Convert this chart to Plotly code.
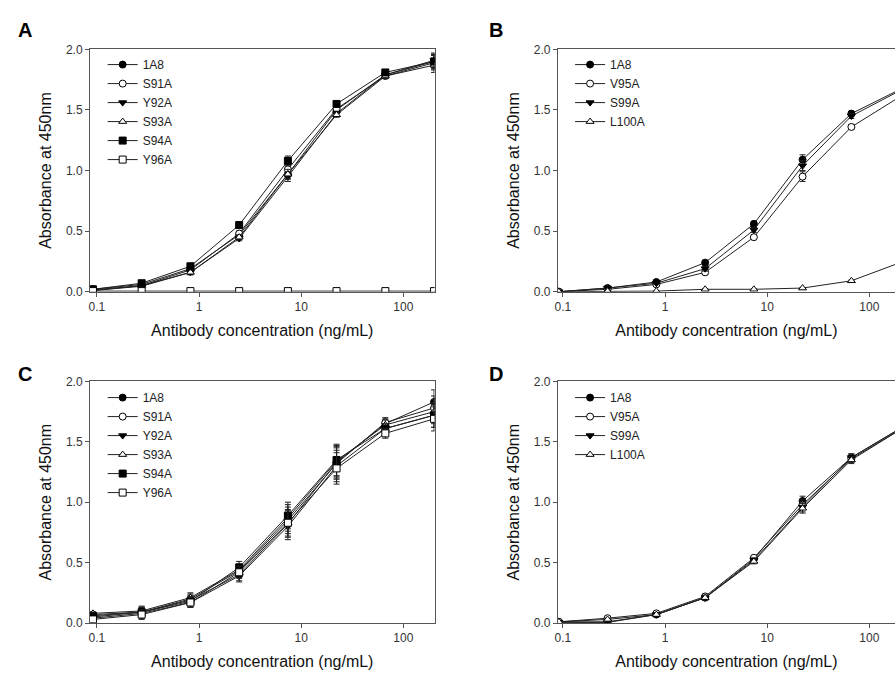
import plotly.graph_objects as go

# ---------------- data ----------------
conc = [0.0914, 0.274, 0.823, 2.47, 7.41, 22.2, 66.7, 200]
x_tick_vals = [0.1, 1, 10, 100]
x_tick_text = ["0.1", "1", "10", "100"]
y_tick_vals = [0.0, 0.5, 1.0, 1.5, 2.0]

# Panel A
a_names = ["1A8", "S91A", "Y92A", "S93A", "S94A", "Y96A"]
a_1A8 = [0.02, 0.06, 0.19, 0.47, 0.97, 1.50, 1.79, 1.90]
a_S91A = [0.015, 0.05, 0.18, 0.48, 1.01, 1.51, 1.78, 1.89]
a_Y92A = [0.01, 0.045, 0.16, 0.44, 0.95, 1.47, 1.79, 1.91]
a_S93A = [0.01, 0.05, 0.16, 0.45, 0.97, 1.46, 1.78, 1.87]
a_S94A = [0.02, 0.07, 0.21, 0.55, 1.08, 1.55, 1.81, 1.90]
a_Y96A = [0.005, 0.005, 0.005, 0.005, 0.005, 0.005, 0.005, 0.005]
a_err = [0.01, 0.01, 0.02, 0.02, 0.04, 0.02, 0.02, 0.06]
a_err_low = [0.0, 0.0, 0.0, 0.0, 0.0, 0.0, 0.0, 0.0]

# Panel B
b_names = ["1A8", "V95A", "S99A", "L100A"]
b_1A8 = [0.0, 0.03, 0.08, 0.24, 0.56, 1.09, 1.47, 1.67]
b_V95A = [0.0, 0.02, 0.06, 0.16, 0.45, 0.95, 1.36, 1.61]
b_S99A = [0.0, 0.03, 0.07, 0.19, 0.51, 1.04, 1.45, 1.66]
b_L100A = [0.0, 0.005, 0.005, 0.02, 0.02, 0.03, 0.09, 0.24]
b_err = [0.005, 0.01, 0.01, 0.02, 0.02, 0.04, 0.02, 0.03]
b_err_low = [0.0, 0.0, 0.0, 0.005, 0.005, 0.005, 0.005, 0.01]

# Panel C
c_1A8 = [0.05, 0.09, 0.19, 0.40, 0.82, 1.33, 1.65, 1.83]
c_S91A = [0.07, 0.09, 0.20, 0.43, 0.85, 1.32, 1.66, 1.78]
c_Y92A = [0.04, 0.08, 0.17, 0.39, 0.80, 1.30, 1.61, 1.72]
c_S93A = [0.08, 0.10, 0.21, 0.44, 0.87, 1.34, 1.64, 1.75]
c_S94A = [0.06, 0.09, 0.18, 0.46, 0.89, 1.35, 1.61, 1.72]
c_Y96A = [0.03, 0.07, 0.17, 0.42, 0.83, 1.28, 1.57, 1.69]
c_err = [0.01, 0.04, 0.04, 0.05, 0.11, 0.13, 0.04, 0.10]

# Panel D
d_1A8 = [0.01, 0.01, 0.07, 0.21, 0.53, 1.01, 1.37, 1.61]
d_V95A = [0.01, 0.04, 0.08, 0.22, 0.54, 0.98, 1.36, 1.60]
d_S99A = [0.005, 0.005, 0.07, 0.21, 0.52, 0.96, 1.37, 1.61]
d_L100A = [0.01, 0.03, 0.07, 0.21, 0.51, 0.95, 1.35, 1.60]
d_err = [0.005, 0.01, 0.01, 0.02, 0.02, 0.04, 0.03, 0.03]

# ---------------- styles ----------------
W, H = 895, 679
FONT = "Liberation Sans, Arial, sans-serif"
LINE = "#222222"
AXC = "#555555"

sym6 = [("circle", "black"), ("circle", "white"), ("triangle-down", "black"),
        ("triangle-up", "white"), ("square", "black"), ("square", "white")]
sym4 = [("circle", "black"), ("circle", "white"), ("triangle-down", "black"),
        ("triangle-up", "white")]

fig = go.Figure()

panels = [
    ("x", "y", "legend", a_names, [a_1A8, a_S91A, a_Y92A, a_S93A, a_S94A, a_Y96A], sym6,
     [a_err] * 5 + [a_err_low]),
    ("x2", "y2", "legend2", b_names, [b_1A8, b_V95A, b_S99A, b_L100A], sym4,
     [b_err] * 3 + [b_err_low]),
    ("x3", "y3", "legend3", a_names, [c_1A8, c_S91A, c_Y92A, c_S93A, c_S94A, c_Y96A], sym6,
     [c_err] * 6),
    ("x4", "y4", "legend4", b_names, [d_1A8, d_V95A, d_S99A, d_L100A], sym4, [d_err] * 4),
]

for xa, ya, lg, names, series, syms, errs in panels:
    for name, vals, (sym, fill), err in zip(names, series, syms, errs):
        fig.add_trace(go.Scatter(
            x=conc, y=vals, name=name, mode="lines+markers",
            xaxis=xa, yaxis=ya, legend=lg,
            line=dict(color=LINE, width=1),
            marker=dict(symbol=sym, size=7, color=fill, line=dict(color="black", width=1)),
            error_y=dict(type="data", array=err, color=LINE, thickness=1, width=3),
        ))

# domains (pixels -> paper)
def px_x(p):
    return p / W

def px_y(p):
    return 1 - p / H

xdomL = [px_x(87.3), px_x(433)]
xdomR = [px_x(556.7), 1.0]
ydomT = [px_y(290.7), px_y(43.3)]
ydomB = [px_y(629), px_y(382.3)]

xrangeL = [-1.068, 2.306]
xrangeR = [-1.049, 2.251]

common_x = dict(type="log", tickvals=x_tick_vals, ticktext=x_tick_text,
                ticks="outside", ticklen=4, tickcolor=AXC, showline=True,
                linecolor=AXC, linewidth=1, showgrid=False, zeroline=False,
                tickfont=dict(family=FONT, size=12, color="#333333"),
                title=dict(text="Antibody concentration (ng/mL)",
                           font=dict(family=FONT, size=16, color="#111111"), standoff=11))
common_y = dict(range=[0, 2.0], tickvals=y_tick_vals, tickformat=".1f",
                ticks="outside", ticklen=4, tickcolor=AXC, showline=True,
                linecolor=AXC, linewidth=1, showgrid=False, zeroline=False,
                tickfont=dict(family=FONT, size=12, color="#333333"),
                title=dict(text="Absorbance at 450nm",
                           font=dict(family=FONT, size=16, color="#111111"), standoff=10))

layout = dict(
    width=W, height=H, margin=dict(l=0, r=0, t=0, b=0),
    paper_bgcolor="white", plot_bgcolor="white",
    font=dict(family=FONT, color="#111111"),
    showlegend=True,
)
layout["xaxis"] = dict(common_x, domain=xdomL, range=xrangeL, anchor="y", mirror=True)
layout["yaxis"] = dict(common_y, domain=ydomT, anchor="x", mirror=True)
layout["xaxis2"] = dict(common_x, domain=xdomR, range=xrangeR, anchor="y2", mirror=True)
layout["yaxis2"] = dict(common_y, domain=ydomT, anchor="x2", mirror=False)
layout["xaxis3"] = dict(common_x, domain=xdomL, range=xrangeL, anchor="y3", mirror=True)
layout["yaxis3"] = dict(common_y, domain=ydomB, anchor="x3", mirror=True)
layout["xaxis4"] = dict(common_x, domain=xdomR, range=xrangeR, anchor="y4", mirror=True)
layout["yaxis4"] = dict(common_y, domain=ydomB, anchor="x4", mirror=False)

leg_common = dict(font=dict(family=FONT, size=12, color="#222222"), bgcolor="rgba(0,0,0,0)",
                  tracegroupgap=0, xanchor="left", yanchor="top", itemwidth=30)
layout["legend"] = dict(leg_common, x=px_x(100), y=px_y(44))
layout["legend2"] = dict(leg_common, x=px_x(569), y=px_y(44))
layout["legend3"] = dict(leg_common, x=px_x(100), y=px_y(384))
layout["legend4"] = dict(leg_common, x=px_x(569), y=px_y(384))

fig.update_layout(**layout)

for txt, xp, yp in [("A", 22, 23), ("B", 495, 23), ("C", 22, 375), ("D", 495, 375)]:
    fig.add_annotation(text=f"<b>{txt}</b>", x=px_x(xp), y=px_y(yp), xref="paper", yref="paper",
                       showarrow=False, font=dict(family=FONT, size=20, color="black"),
                       xanchor="center", yanchor="middle")

fig.write_html("out.html")
